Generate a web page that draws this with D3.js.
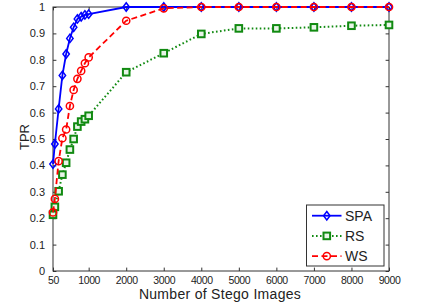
<!DOCTYPE html>
<html><head><meta charset="utf-8">
<script src="https://cdn.jsdelivr.net/npm/d3@7"></script>
<style>
html,body{margin:0;padding:0;background:#fff;}
svg{display:block;font-family:"Liberation Sans",Arial,sans-serif;}
</style></head>
<body><svg id="c" width="426" height="306"></svg>
<script>
const xValues = [50,100,200,300,400,500,600,700,800,900,1000,2000,3000,4000,5000,6000,7000,8000,9000];
const spa = [0.405,0.481,0.614,0.741,0.822,0.881,0.923,0.955,0.963,0.970,0.973,1.0,1.0,1.0,1.0,1.0,1.0,1.0,1.0];
const rs  = [0.213,0.243,0.302,0.365,0.410,0.460,0.500,0.547,0.566,0.575,0.588,0.753,0.825,0.898,0.919,0.919,0.923,0.929,0.932];
const ws  = [0.222,0.273,0.416,0.503,0.536,0.625,0.686,0.728,0.758,0.787,0.809,0.948,0.995,1.0,1.0,1.0,1.0,1.0,1.0];
const seriesNames = ["SPA","RS","WS"];
const xTicks = [50,1000,2000,3000,4000,5000,6000,7000,8000,9000];
const yTicks = [0,0.1,0.2,0.3,0.4,0.5,0.6,0.7,0.8,0.9,1];
const xTitle = "Number of Stego Images";
const yTitle = "TPR";

const svg = d3.select("#c");
const L = 53, R = 389, T = 7, B = 271;
const x = d3.scaleLinear().domain([50, 9000]).range([L, R]);
const y = d3.scaleLinear().domain([0, 1]).range([B, T]);
const axisColor = "#333";
const tl = 3.4;

// box
svg.append("rect").attr("x", L).attr("y", T).attr("width", R - L).attr("height", B - T)
  .attr("fill", "#fff").attr("stroke", axisColor).attr("stroke-width", 1);

// axes (ticks inward)
const gxb = svg.append("g").attr("transform", `translate(0,${B})`)
  .call(d3.axisBottom(x).tickValues(xTicks).tickSize(-tl).tickPadding(5.5).tickFormat(d3.format("d")));
const gxt = svg.append("g").attr("transform", `translate(0,${T})`)
  .call(d3.axisTop(x).tickValues(xTicks).tickSize(-tl).tickFormat(""));
const gyl = svg.append("g").attr("transform", `translate(${L},0)`)
  .call(d3.axisLeft(y).tickValues(yTicks).tickSize(-tl).tickPadding(8).tickFormat(d => d3.format("")(d)));
const gyr = svg.append("g").attr("transform", `translate(${R},0)`)
  .call(d3.axisRight(y).tickValues(yTicks).tickSize(-tl).tickFormat(""));
[gxb, gxt, gyl, gyr].forEach(g => {
  g.select(".domain").remove();
  g.selectAll(".tick line").attr("stroke", axisColor);
  g.selectAll("text").attr("fill", "#222").attr("font-family", "Liberation Sans, Arial, sans-serif");
});
gxb.selectAll("text").attr("font-size", 10.5).attr("letter-spacing", "-0.4px");
gyl.selectAll("text").attr("font-size", 11);

// titles
svg.append("text").attr("x", (L + R) / 2 - 1).attr("y", 299).attr("text-anchor", "middle")
  .attr("font-size", 14).attr("letter-spacing", "0.3px").attr("fill", "#222").text(xTitle);
svg.append("text").attr("transform", `translate(29,137) rotate(-90)`).attr("text-anchor", "middle")
  .attr("font-size", 13).attr("fill", "#222").text(yTitle);

const styles = [
  {name: seriesNames[0], data: spa, color: "#0000ff", dash: null, width: 1.8, marker: "diamond"},
  {name: seriesNames[1], data: rs, color: "#118a11", dash: "1.6,2.4", width: 2, marker: "square"},
  {name: seriesNames[2], data: ws, color: "#ff0000", dash: "6,3.5", width: 1.8, marker: "circle"}
];

function drawMarker(g, type, cx, cy, color) {
  if (type === "diamond") {
    g.append("path").attr("d", `M${cx},${cy-4.2}L${cx+3.2},${cy}L${cx},${cy+4.2}L${cx-3.2},${cy}Z`)
      .attr("fill", "none").attr("stroke", color).attr("stroke-width", 1.5);
  } else if (type === "square") {
    g.append("rect").attr("x", cx - 3.3).attr("y", cy - 3.3).attr("width", 6.6).attr("height", 6.6)
      .attr("fill", "#e8f5e8").attr("stroke", color).attr("stroke-width", 2);
  } else {
    g.append("circle").attr("cx", cx).attr("cy", cy).attr("r", 3.6)
      .attr("fill", "none").attr("stroke", color).attr("stroke-width", 1.5);
  }
}

const line = d3.line().x((d, i) => x(xValues[i])).y(d => y(d));
styles.forEach(s => {
  const g = svg.append("g");
  g.append("path").datum(s.data).attr("d", line).attr("fill", "none")
    .attr("stroke", s.color).attr("stroke-width", s.width)
    .attr("stroke-dasharray", s.dash);
  s.data.forEach((v, i) => drawMarker(g, s.marker, x(xValues[i]), y(v), s.color));
});

// legend
const lg = svg.append("g");
lg.append("rect").attr("x", 306.5).attr("y", 205).attr("width", 77.5).attr("height", 61)
  .attr("fill", "#fff").attr("stroke", axisColor).attr("stroke-width", 1);
styles.forEach((s, i) => {
  const ly = 215.7 + i * 20.2;
  lg.append("line").attr("x1", 312).attr("x2", 341.5).attr("y1", ly).attr("y2", ly)
    .attr("stroke", s.color).attr("stroke-width", s.width).attr("stroke-dasharray", s.dash);
  drawMarker(lg, s.marker, 326.8, ly, s.color);
  lg.append("text").attr("x", 345).attr("y", ly + 5).attr("font-size", 14).attr("fill", "#222").text(s.name);
});
</script></body></html>
